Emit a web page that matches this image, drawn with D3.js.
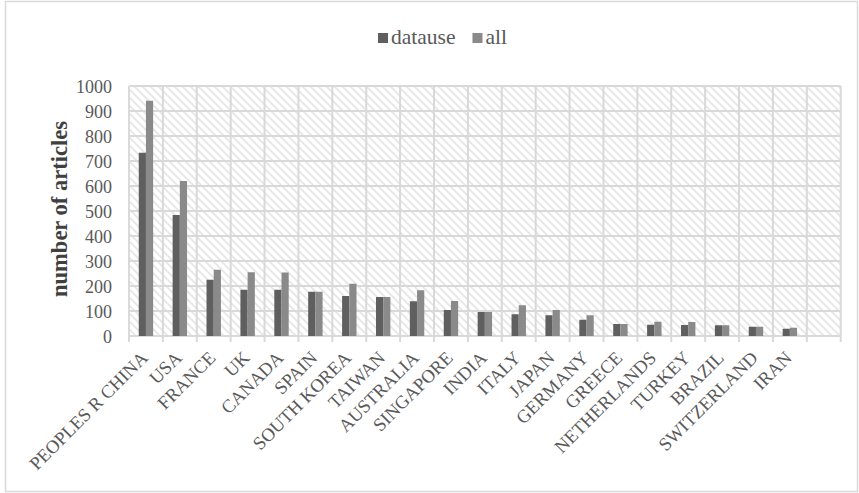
<!DOCTYPE html>
<html>
<head>
<meta charset="utf-8">
<script src="https://cdn.jsdelivr.net/npm/d3@7"></script>
<style>
  html, body { margin: 0; padding: 0; background: #ffffff; }
  svg { display: block; }
  text { font-family: "Liberation Serif", "Times New Roman", serif; }
</style>
</head>
<body>
<svg id="chart" width="859" height="493"></svg>
<script>
// Countries by number of articles
const categories = ["PEOPLES R CHINA", "USA", "FRANCE", "UK", "CANADA", "SPAIN", "SOUTH KOREA",
  "TAIWAN", "AUSTRALIA", "SINGAPORE", "INDIA", "ITALY", "JAPAN", "GERMANY", "GREECE",
  "NETHERLANDS", "TURKEY", "BRAZIL", "SWITZERLAND", "IRAN"];
const datause = [733, 484, 225, 185, 185, 177, 160, 156, 139, 104, 96, 87, 83, 65, 48, 45, 44, 43, 37, 29];
const all     = [941, 620, 265, 255, 254, 177, 209, 156, 183, 140, 96, 123, 104, 83, 48, 57, 56, 43, 37, 33];
const seriesNames = ["datause", "all"];
const seriesColors = ["#5f5f5f", "#8a8a8a"];
const yTicks = [0, 100, 200, 300, 400, 500, 600, 700, 800, 900, 1000];
// one trailing empty slot on the category axis
const axisSlots = categories.concat([""]);

const svg = d3.select("#chart");
const W = 859, H = 493;
const plot = { left: 129, right: 840.7, top: 86, bottom: 336 };
const gridColor = "#d9d9d9";
const textColor = "#595959";

// outer chart border
svg.append("rect")
  .attr("x", 5.5).attr("y", 1.5)
  .attr("width", 852).attr("height", 490)
  .attr("fill", "#ffffff")
  .attr("stroke", gridColor).attr("stroke-width", 1.5);

// diagonal hatch fill for the plot area
const defs = svg.append("defs");
const pat = defs.append("pattern")
  .attr("id", "hatch")
  .attr("patternUnits", "userSpaceOnUse")
  .attr("width", 8).attr("height", 8);
pat.append("rect").attr("width", 8).attr("height", 8).attr("fill", "#ffffff");
pat.append("path")
  .attr("d", "M-2,-2 L10,10 M-2,6 L2,10 M6,-2 L10,2")
  .attr("stroke", "#e6e6e6").attr("stroke-width", 1.8);

const x = d3.scaleBand().domain(axisSlots).range([plot.left, plot.right]).padding(0);
const bw = x.bandwidth();
const x1 = d3.scaleBand().domain(seriesNames).range([bw * 0.2875, bw * 0.7125]).padding(0);
const y = d3.scaleLinear().domain([0, 1000]).range([plot.bottom, plot.top]);

svg.append("rect")
  .attr("x", plot.left).attr("y", plot.top)
  .attr("width", plot.right - plot.left).attr("height", plot.bottom - plot.top)
  .attr("fill", "url(#hatch)");

// horizontal gridlines
svg.append("g")
  .selectAll("line")
  .data(yTicks)
  .join("line")
  .attr("x1", plot.left).attr("x2", plot.right)
  .attr("y1", d => y(d)).attr("y2", d => y(d))
  .attr("stroke", gridColor).attr("stroke-width", 2);

// vertical gridlines at category boundaries, with ticks below the axis
const boundaries = axisSlots.map(c => x(c)).concat([plot.right]);
svg.append("g")
  .selectAll("line")
  .data(boundaries)
  .join("line")
  .attr("x1", d => d).attr("x2", d => d)
  .attr("y1", plot.top).attr("y2", plot.bottom + 6)
  .attr("stroke", gridColor).attr("stroke-width", 2);

// bars
const rows = categories.map((c, i) => ({ country: c, values: [datause[i], all[i]] }));
const groups = svg.append("g")
  .selectAll("g")
  .data(rows)
  .join("g")
  .attr("transform", d => `translate(${x(d.country)},0)`);
groups.selectAll("rect")
  .data(d => d.values.map((v, k) => ({ key: seriesNames[k], value: v, color: seriesColors[k] })))
  .join("rect")
  .attr("x", d => x1(d.key))
  .attr("width", x1.bandwidth())
  .attr("y", d => y(d.value))
  .attr("height", d => y(0) - y(d.value))
  .attr("fill", d => d.color);

// y axis labels
const yAxis = d3.axisLeft(y).tickValues(yTicks).tickSize(0).tickPadding(17).tickFormat(d3.format("d"));
const gy = svg.append("g").attr("transform", `translate(${plot.left},0)`).call(yAxis);
gy.select(".domain").remove();
gy.selectAll("text")
  .attr("fill", textColor)
  .style("font-family", '"Liberation Serif", serif')
  .style("font-size", "18px")
  .attr("dy", "0.36em");

// x axis labels, rotated
const xAxis = d3.axisBottom(x).tickSize(0).tickPadding(0);
const gx = svg.append("g").attr("transform", `translate(0,${plot.bottom})`).call(xAxis);
gx.select(".domain").remove();
gx.selectAll("text")
  .attr("fill", textColor)
  .style("font-family", '"Liberation Serif", serif')
  .style("font-size", "18.5px")
  .attr("text-anchor", "end")
  .attr("dy", null)
  .attr("y", 0)
  .attr("transform", "translate(3,23) rotate(-45)");

// axis title
svg.append("text")
  .attr("transform", `translate(67,${(plot.top + plot.bottom) / 2 - 2}) rotate(-90)`)
  .attr("text-anchor", "middle")
  .attr("fill", "#404040")
  .style("font-size", "22.5px")
  .style("font-weight", "bold")
  .text("number of articles");

// legend
const legend = svg.append("g");
let lx = 0;
seriesNames.forEach((name, k) => {
  const item = legend.append("g").attr("transform", `translate(${lx},0)`);
  item.append("rect").attr("x", 0).attr("y", -11).attr("width", 10).attr("height", 10).attr("fill", seriesColors[k]);
  const t = item.append("text").attr("x", 13).attr("y", 0).attr("fill", textColor)
    .style("font-size", "21.5px").text(name);
  lx += 13 + t.node().getComputedTextLength() + 17;
});
const legendWidth = lx - 17;
legend.attr("transform", `translate(${(W / 2) - legendWidth / 2 + 13},44)`);
</script>
</body>
</html>
